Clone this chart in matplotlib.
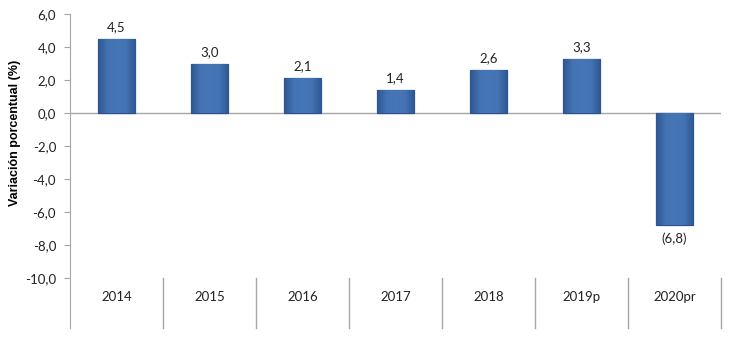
import numpy as np
import matplotlib
matplotlib.use("Agg")
import matplotlib.pyplot as plt
import matplotlib.colors as mcolors

years = ["2014", "2015", "2016", "2017", "2018", "2019p", "2020pr"]
growth = [4.5, 3.0, 2.1, 1.4, 2.6, 3.3, -6.8]
ytick_vals = [6, 4, 2, 0, -2, -4, -6, -8, -10]

plt.rcParams['font.family'] = ['Lato', 'DejaVu Sans']

def fmt(v):
    s = "%.1f" % abs(v)
    s = s.replace(".", ",")
    if v < 0:
        return "(" + s + ")"
    return s

fig = plt.figure(figsize=(7.33, 3.42), dpi=100)
ax = fig.add_axes([0.0955, 0.041, 0.888, 0.918])

x = np.arange(len(years))
bars = ax.bar(x, growth, width=0.4, color="#3f6cab", edgecolor="#2c5189",
              linewidth=0.9, zorder=3)

# horizontal gradient inside each bar (bevel look)
bar_cmap = mcolors.LinearSegmentedColormap.from_list(
    "bevel", ["#2e5791", "#4373b3", "#4676b6", "#4373b3", "#2e5791"])
grad = np.linspace(0, 1, 64).reshape(1, -1)
for b in bars:
    bx, by = b.get_x(), b.get_y()
    bw, bh = b.get_width(), b.get_height()
    im = ax.imshow(grad, cmap=bar_cmap, aspect="auto", zorder=3.5,
                   extent=[bx, bx + bw, min(by, by + bh), max(by, by + bh)])
    im.set_clip_path(b)

for xi, v in zip(x, growth):
    if v >= 0:
        ax.text(xi, v + 0.35, fmt(v), ha="center", va="bottom", fontsize=9.5,
                color="#222222")
    else:
        ax.text(xi, v - 0.45, fmt(v), ha="center", va="top", fontsize=9.5,
                color="#222222")

ax.set_xlim(-0.5, len(years) - 0.5)
ax.set_ylim(-13.03, 6)

ax.axhline(0, color="#a6a6a6", linewidth=1, zorder=2)

ax.set_yticks(ytick_vals)
ax.set_yticklabels([("%.1f" % v).replace(".", ",") for v in ytick_vals],
                   fontsize=9.5, color="#222222")
ax.tick_params(axis="y", length=4, color="#a6a6a6", pad=6)
ax.set_xticks([])

for s in ["top", "right", "bottom"]:
    ax.spines[s].set_visible(False)
ax.spines["left"].set_color("#a6a6a6")

# category separators and labels below the plot
for i in range(1, len(years) + 1):
    ax.plot([i - 0.5, i - 0.5], [-10, -13.03], color="#a6a6a6", linewidth=1,
            clip_on=False)
for xi, lab in zip(x, years):
    ax.text(xi, -11.15, lab, ha="center", va="center", fontsize=9.5,
            color="#222222")

ax.set_ylabel("Variación porcentual (%)", fontsize=9, fontweight="bold",
              family=["Liberation Sans", "DejaVu Sans"], labelpad=6)
ax.yaxis.set_label_coords(-0.075, 0.62)

fig.savefig("out.png", dpi=100)
